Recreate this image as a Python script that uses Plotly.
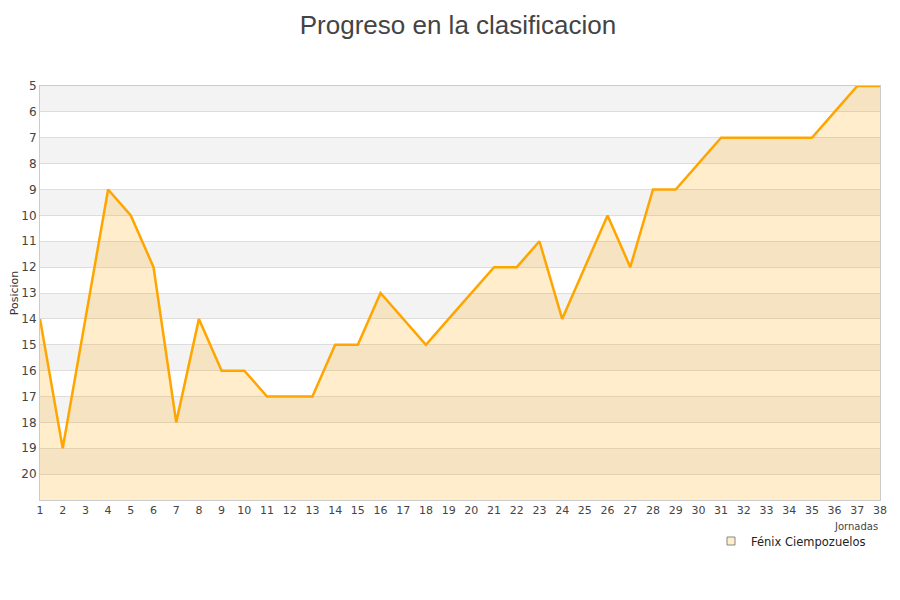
import plotly.graph_objects as go

jornadas = list(range(1, 39))
posiciones = [14, 19, 14, 9, 10, 12, 18, 14, 16, 16, 17, 17, 17, 15, 15, 13, 14, 15, 14, 13,
              12, 12, 11, 14, 12, 10, 12, 9, 9, 8, 7, 7, 7, 7, 7, 6, 5, 5]
y_ticks = list(range(5, 21))
equipo = "Fénix Ciempozuelos"

fig = go.Figure()
fig.add_trace(go.Scatter(x=jornadas, y=[21] * len(jornadas), mode="lines",
                         line=dict(width=0), showlegend=False, hoverinfo="skip"))
fig.add_trace(go.Scatter(x=jornadas, y=posiciones, mode="lines", name=equipo,
                         fill="tonexty", fillcolor="rgba(255,165,0,0.2)",
                         line=dict(color="#FFA500", width=2.5), showlegend=False))
fig.add_trace(go.Scatter(x=[None], y=[None], mode="markers", name=equipo,
                         marker=dict(symbol="square", size=8, color="#ffeecc",
                                     line=dict(color="#888", width=1))))

shapes = []
for v in range(5, 21, 2):
    shapes.append(dict(type="rect", xref="paper", yref="y", x0=0, x1=1, y0=v, y1=v + 1,
                       fillcolor="#f3f3f3", line=dict(width=0), layer="below"))

fig.update_layout(
    width=900, height=600,
    paper_bgcolor="white", plot_bgcolor="white",
    margin=dict(l=32, r=28, t=78, b=108, autoexpand=False),
    title=dict(text="Progreso en la clasificacion", x=0.5, xanchor="center",
               y=1 - 8 / 600, yanchor="top", pad=dict(t=0, b=0),
               font=dict(family="Liberation Sans, Arial", size=26, color="#444")),
    shapes=shapes,
    showlegend=True,
    legend=dict(xref="container", yref="container", x=863 / 900, xanchor="right",
                y=1 - 533 / 600, yanchor="middle",
                bgcolor="rgba(0,0,0,0)", font=dict(family="DejaVu Sans", size=11.5, color="#222"),
                itemwidth=30, tracegroupgap=0),
    font=dict(family="DejaVu Sans", size=11, color="#444"),
    annotations=[dict(text="Jornadas", xref="paper", yref="paper", x=1, y=-26 / 414,
                      xanchor="right", yanchor="middle", showarrow=False,
                      font=dict(family="DejaVu Sans", size=10, color="#444"))],
)
fig.update_xaxes(range=[1, 38], tickmode="array", tickvals=jornadas, ticktext=[str(j) for j in jornadas],
                 showgrid=False, zeroline=False, showline=True, linecolor="#ccc", mirror=True,
                 ticks="", tickfont=dict(size=11, color="#444"), automargin=False)
fig.update_yaxes(range=[21, 5], tickmode="array", tickvals=y_ticks, ticktext=[str(v) for v in y_ticks],
                 showgrid=True, gridcolor="#dddddd", zeroline=False, showline=True, linecolor="#ccc",
                 mirror=True, ticks="", tickfont=dict(size=12, color="#444"), automargin=False,
                 title=dict(text="Posicion", font=dict(size=11, color="#333"), standoff=4))

fig.write_html("out.html")
